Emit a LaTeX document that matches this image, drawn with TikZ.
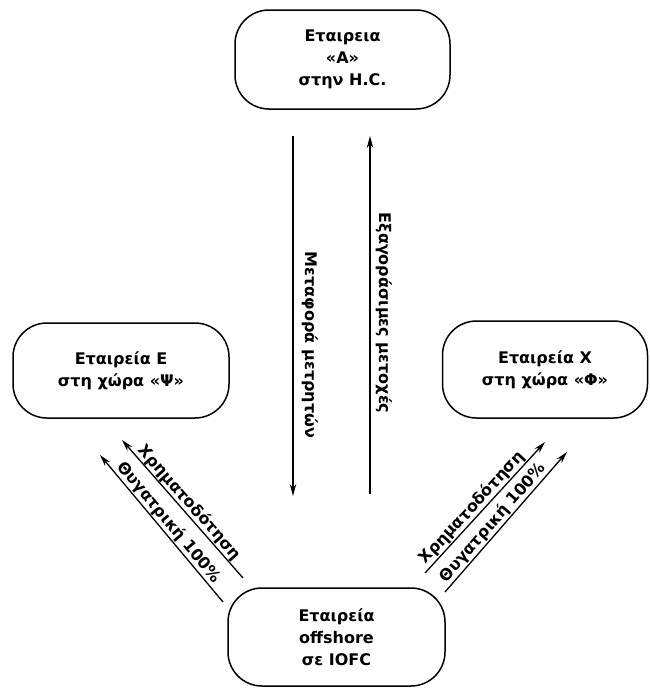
\documentclass[tikz,border=0pt]{standalone}
\usepackage{fontspec}
\setmainfont{DejaVu Sans}
\usetikzlibrary{arrows.meta}
\tikzset{
    company/.style={draw, line width=1.5pt, rounded corners=34pt, align=center, inner sep=0pt, font=\bfseries\fontsize{16}{22}\selectfont},
    flow/.style={line width=1.3pt, -{Stealth[length=12pt, width=6.5pt]}},
    flowlabel/.style={inner sep=0.8pt, font=\bfseries\fontsize{16}{18}\selectfont}
}

\begin{document}
\begin{tikzpicture}[x=1pt, y=-1pt]
        \useasboundingbox (0,0) rectangle (649,688);
        \begin{scope}
            \node [company, minimum width=215pt, minimum height=99pt] (HC) at (342.5, 59.5) {Εταιρεια\\«Α»\\στην H.C.};
            \node [company, minimum width=216pt, minimum height=95pt] (Psi) at (121, 370.5) {Εταιρεία Ε\\στη χώρα «Ψ»};
            \node [company, minimum width=205pt, minimum height=97pt] (Phi) at (545, 369.5) {Εταιρεία Χ\\στη χώρα «Φ»};
            \node [company, minimum width=217pt, minimum height=98pt] (IOFC) at (336.5, 637) {Εταιρεία\\offshore\\σε IOFC};

            \coordinate (D1) at (293, 136);
            \coordinate (D2) at (293, 496);
            \coordinate (U1) at (370, 494);
            \coordinate (U2) at (370, 136);

            \coordinate (E1) at (243, 578);
            \coordinate (E2) at (122, 440);
            \coordinate (E3) at (223, 602);
            \coordinate (E4) at (100, 455);

            \coordinate (X1) at (425, 573);
            \coordinate (X2) at (545, 442);
            \coordinate (X3) at (445, 592);
            \coordinate (X4) at (567, 452);

            \draw [flow] (D1) -- (D2);
            \draw [flow] (U1) -- (U2);
            \node [flowlabel, rotate=-90] (T1) at (310, 345) {Μεταφορά μετρητών};
            \node [flowlabel, rotate=-90] (T2) at (384, 313) {Εξαγοράσιμες μετοχές};

            \draw [flow] (E1) -- (E2) node [flowlabel, midway, sloped, above] (T3) {Χρηματοδότηση};
            \draw [flow] (E3) -- (E4) node [flowlabel, midway, sloped, above] (T4) {Θυγατρική 100\%};
            \draw [flow] (X1) -- (X2) node [flowlabel, pos=0.45, sloped, above] (T5) {Χρηματοδότηση};
            \draw [flow] (X3) -- (X4) node [flowlabel, pos=0.45, sloped, above] (T6) {Θυγατρική 100\%};
        \end{scope}
    \end{tikzpicture}
\end{document}
